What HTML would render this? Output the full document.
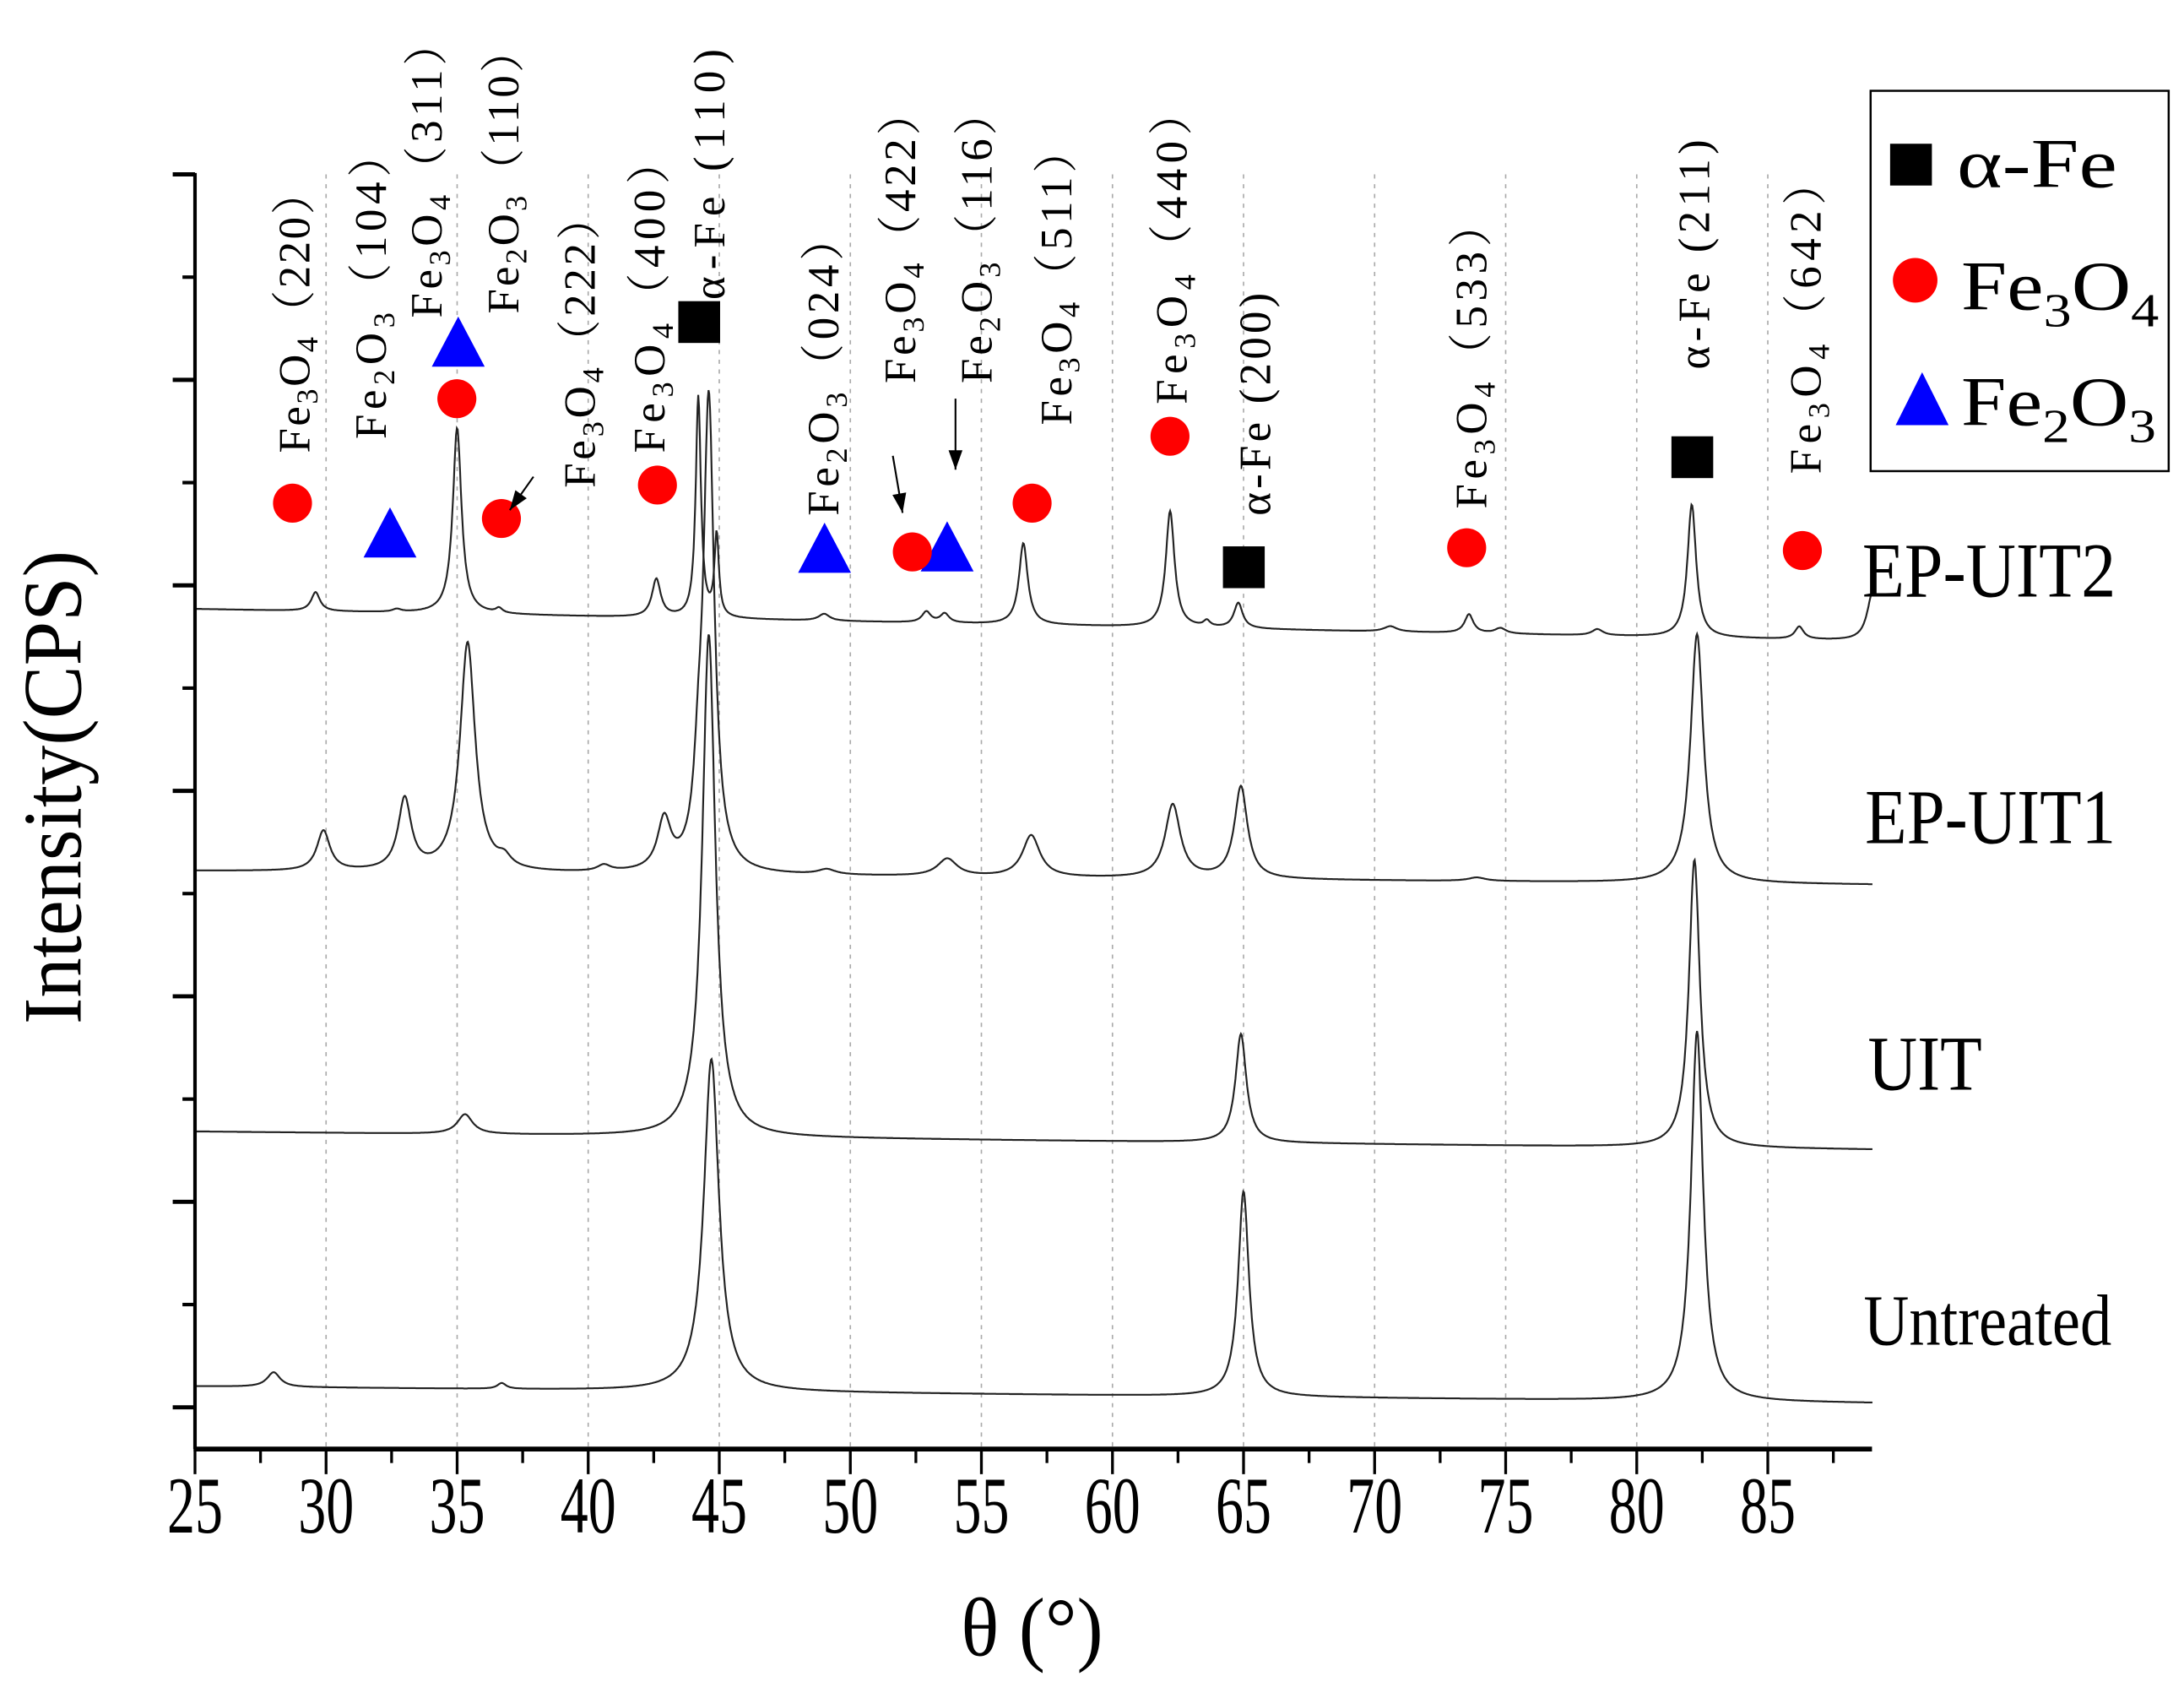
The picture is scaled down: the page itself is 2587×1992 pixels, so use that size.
<!DOCTYPE html>
<html><head><meta charset="utf-8"><style>
html,body{margin:0;padding:0;background:#fff}
svg{display:block}
text{font-family:"Liberation Serif","Noto Serif CJK SC",serif;fill:#000}
</style></head><body>
<svg id="chart" width="2587" height="1992" viewBox="0 0 1568 1207" xmlns="http://www.w3.org/2000/svg">
<g id="grid"></g>
<g id="series"></g>
<g id="axes"></g>
<g id="annot"></g>
<g>
  <rect x="1343" y="65" width="214" height="273" fill="#fff" stroke="#000" stroke-width="1.5"/>
  <rect x="1357" y="103" width="30" height="30" fill="#000"/>
  <text font-family="Liberation Serif, serif" x="1405" y="134" font-size="50" textLength="115" lengthAdjust="spacingAndGlyphs">α-Fe</text>
  <circle cx="1375" cy="201" r="16" fill="#f00"/>
  <text font-family="Liberation Serif, serif" x="1408" y="222" font-size="50" textLength="142" lengthAdjust="spacingAndGlyphs">Fe<tspan font-size="34" dy="12">3</tspan><tspan dy="-12">O</tspan><tspan font-size="34" dy="12">4</tspan></text>
  <polygon points="1380,267 1361,305 1399,305" fill="#00f"/>
  <text font-family="Liberation Serif, serif" x="1408" y="305" font-size="50" textLength="140" lengthAdjust="spacingAndGlyphs">Fe<tspan font-size="34" dy="12">2</tspan><tspan dy="-12">O</tspan><tspan font-size="34" dy="12">3</tspan></text>
</g>
<text x="1337" y="428" font-size="56" textLength="182" lengthAdjust="spacingAndGlyphs">EP-UIT2</text>
<text x="1339" y="605" font-size="56" textLength="180" lengthAdjust="spacingAndGlyphs">EP-UIT1</text>
<text x="1341" y="782" font-size="56" textLength="82" lengthAdjust="spacingAndGlyphs">UIT</text>
<text x="1338" y="965" font-size="52" textLength="178" lengthAdjust="spacingAndGlyphs">Untreated</text>
<text x="690" y="1188" font-size="60" textLength="102" lengthAdjust="spacingAndGlyphs">θ (°)</text>
<text transform="translate(58,735) rotate(-90)" font-size="60" textLength="340" lengthAdjust="spacingAndGlyphs">Intensity(CPS)</text>
</svg>
<script>
// ---- data ----
const xTicks = [25,30,35,40,45,50,55,60,65,70,75,80,85];
const xTickLabels = ["25","30","35","40","45","50","55","60","65","70","75","80","85"];
const yTicks = [0,1000,2000,3000,4000,5000,6000];
const seriesNames = ["Untreated","UIT","EP-UIT1","EP-UIT2"];
const untreatedBase = [102,20];
const untreatedPos = [28.0,36.7,44.7,65.0,82.3];
const untreatedTop = [170,115,1695,1051,1831];
const untreatedWid = [0.3,0.2,0.35,0.25,0.28];
const uitBase = [1342,1254];
const uitPos = [35.3,44.6,64.9,82.2];
const uitTop = [1424,3763,1817,2665];
const uitWid = [0.35,0.3,0.25,0.25];
const ep1Base = [2610,2543];
const ep1Pos = [29.9,33.0,35.4,36.8,40.6,42.9,44.2,44.6,49.1,53.7,56.9,62.3,64.9,73.9,82.3];
const ep1Top = [2800,2949,3715,2644,2624,2834,2882,4882,2610,2665,2780,2929,3017,2576,3763];
const ep1Wid = [0.3,0.3,0.35,0.3,0.3,0.3,0.2,0.25,0.4,0.45,0.4,0.35,0.3,0.4,0.3];
const ep2Base = [3885,3729];
const ep2Pos = [29.6,32.7,35.0,36.6,42.6,44.2,44.9,49.0,52.9,53.6,56.6,62.2,63.6,64.8,70.6,73.6,74.8,78.5,82.1,86.2,89.0];
const ep2Top = [3966,3880,4766,3880,4027,4915,4237,3860,3870,3860,4204,4360,3820,3912,3800,3858,3790,3785,4393,3797,3966];
const ep2Wid = [0.2,0.2,0.2,0.15,0.2,0.12,0.1,0.25,0.2,0.2,0.2,0.2,0.15,0.2,0.3,0.2,0.25,0.25,0.2,0.2,0.25];

// ---- scales ----
const X0=25, XPX0=140, PXPER=94.1/5, XMAX=89.0;
function xs(v){return XPX0+(v-X0)*PXPER;}
function ys(v){return 1010 - v*0.1475;}
const NS="http://www.w3.org/2000/svg";
function mk(tag,attrs,parent){const e=document.createElementNS(NS,tag);for(const k in attrs)e.setAttribute(k,attrs[k]);parent.appendChild(e);return e;}

const grid=document.getElementById('grid');
xTicks.forEach((t,i)=>{ if(i===0) return;
  const l=mk('line',{x1:xs(t),x2:xs(t),y1:125,y2:1040,stroke:'#aaa','stroke-width':1,'stroke-dasharray':'3,4'},grid);
  
  
});

// series
const sg=document.getElementById('series');
const allSeries=[[untreatedBase,untreatedPos,untreatedTop,untreatedWid],[uitBase,uitPos,uitTop,uitWid],[ep1Base,ep1Pos,ep1Top,ep1Wid],[ep2Base,ep2Pos,ep2Top,ep2Wid]];
allSeries.forEach((s,si)=>{
  const [b,pos,top,wid]=s;
  const base=x=>b[0]+(b[1]-b[0])*(x-X0)/(XMAX-X0);
  let d='';
  for(let x=X0;x<=XMAX+1e-9;x+=0.03){
    let v=base(x);
    for(let k=0;k<pos.length;k++){const h=top[k]-base(pos[k]);const w=wid[k];v+=h*w*w/((x-pos[k])*(x-pos[k])+w*w);}
    d+=(d?'L':'M')+xs(x).toFixed(1)+','+ys(v).toFixed(1);
  }
  const p=mk('path',{d:d,fill:'none',stroke:'#222','stroke-width':1.3},sg);
  
  
});

// axes
const ax=document.getElementById('axes');
let a=mk('line',{x1:140,x2:140,y1:124,y2:1040,stroke:'#000','stroke-width':2.5},ax);

a=mk('line',{x1:139,x2:1344,y1:1040,y2:1040,stroke:'#000','stroke-width':3.5},ax);

yTicks.forEach((t,i)=>{
  const y=ys(t);
  const l=mk('line',{x1:124,x2:140,y1:y,y2:y,stroke:'#000','stroke-width':3},ax);
  
  
  if(i<yTicks.length-1){
    const ym=ys(t+500);
    const m=mk('line',{x1:131,x2:140,y1:ym,y2:ym,stroke:'#000','stroke-width':2.5},ax);
    
    
  }
});
xTicks.forEach((t,i)=>{
  const x=xs(t);
  const l=mk('line',{x1:x,x2:x,y1:1040,y2:1058,stroke:'#000','stroke-width':2},ax);
  
  
  const xm=xs(t+2.5);
  if(t+2.5<XMAX){const m=mk('line',{x1:xm,x2:xm,y1:1040,y2:1050,stroke:'#000','stroke-width':2},ax);
  
  }
  const tx=mk('text',{x:x-20,y:1100,'font-size':58,textLength:40,lengthAdjust:'spacingAndGlyphs'},ax);
  tx.textContent=xTickLabels[i];
  
  
});

// annotations
const an=document.getElementById('annot');
const circles=[[210,361],[328,286],[360,372],[472,348],[741,361],[840,313],[1053,393],[1294,395]];
const tris=[[280,382],[329,245],[592,393],[680,392]];
const squares=[[502,231],[893,407],[1215,328]];
tris.forEach(p=>{const e=mk('polygon',{points:`${p[0]},${p[1]-18} ${p[0]-19},${p[1]+18} ${p[0]+19},${p[1]+18}`,fill:'#00f'},an);
  });
circles.forEach(p=>{const e=mk('circle',{cx:p[0],cy:p[1],r:14,fill:'#f00'},an);
  });
{const e=mk('circle',{cx:655,cy:396,r:14,fill:'#f00'},an);}
squares.forEach(p=>{const e=mk('rect',{x:p[0]-15,y:p[1]-15,width:30,height:30,fill:'#000'},an);
  });
const arrows=[[383,342,366,366],[641,327,648,368],[686,286,686,337]];
arrows.forEach(r=>{
  const g=mk('g',{},an);
  mk('line',{x1:r[0],y1:r[1],x2:r[2],y2:r[3],stroke:'#000','stroke-width':1.3},g);
  const ang=Math.atan2(r[3]-r[1],r[2]-r[0]);const L=14,W=5;
  const bx=r[2]-L*Math.cos(ang),by=r[3]-L*Math.sin(ang);
  mk('polygon',{points:`${r[2]},${r[3]} ${bx-W*Math.sin(ang)},${by+W*Math.cos(ang)} ${bx+W*Math.sin(ang)},${by-W*Math.cos(ang)}`,fill:'#000'},g);
});
// rotated labels: [x, bottomY, topY, formula, sub1, sub2, index]
const labels=[
 [222,325,122,'Fe','3','4','（220）'],[277,315,95,'Fe','2','3','（104）'],[317,228,15,'Fe','3','4','（311）'],
 [372,225,20,'Fe','2','3','（110）'],[427,350,140,'Fe','3','4','（222）'],[477,325,100,'Fe','3','4','（400）'],
 [602,370,155,'Fe','2','3','（024）'],[657,275,65,'Fe','3','4','（422）'],[712,275,65,'Fe','2','3','（116）'],
 [769,305,92,'Fe','3','4','（511）'],[852,290,65,'Fe','3','4','（440）'],[1067,365,145,'Fe','3','4','（533）'],
 [1307,340,115,'Fe','3','4','（642）']];
labels.forEach(L=>{
  const t=mk('text',{transform:`translate(${L[0]},${L[1]}) rotate(-90)`,'font-size':32,'font-family':'Liberation Serif, Noto Serif CJK SC, serif',textLength:L[1]-L[2],lengthAdjust:'spacing'},an);
  
  
  t.innerHTML=`Fe<tspan font-size="22" dy="6">${L[4]}</tspan><tspan dy="-6">O</tspan><tspan font-size="22" dy="6">${L[5]}</tspan><tspan dy="-6">${L[6]}</tspan>`;
});
const feLabels=[[520,215,35,'α-Fe (110)'],[912,370,210,'α-Fe (200)'],[1227,265,100,'α-Fe (211)']];
feLabels.forEach(L=>{
  const t=mk('text',{transform:`translate(${L[0]},${L[1]}) rotate(-90)`,'font-size':32,'font-family':'Liberation Serif, serif',textLength:L[1]-L[2],lengthAdjust:'spacing'},an);
  
  
  t.textContent=L[3];
});
</script>
</body></html>
